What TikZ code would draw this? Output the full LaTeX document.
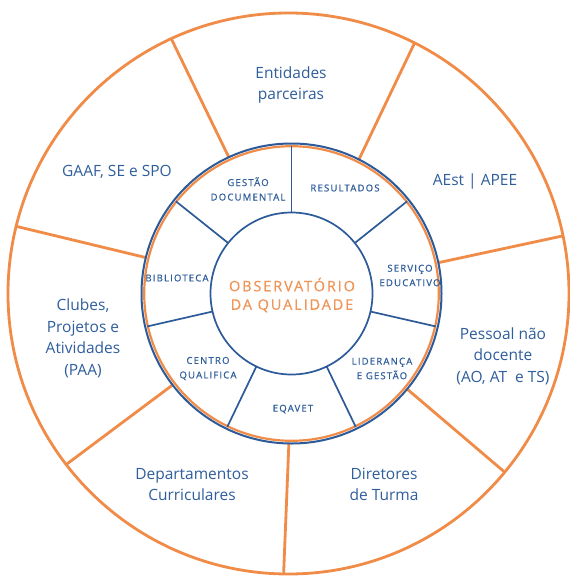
\documentclass[tikz,border=0pt]{standalone}
\usepackage{fontspec}
\setmainfont{Open Sans}
\usetikzlibrary{calc}
\definecolor{ringorange}{HTML}{F08C48}
\definecolor{ringblue}{HTML}{2D5A98}
\definecolor{labelblue}{HTML}{2F5E9C}
\definecolor{titleorange}{HTML}{EE9559}
\newfontfamily\spacedfont[LetterSpace=12,FakeBold=0.6]{Open Sans}
\newfontfamily\titlefont[LetterSpace=13,FakeBold=0.5]{Open Sans}
\tikzset{
  outerlabel/.style={align=center, text=labelblue, inner sep=0pt,
    font=\fontsize{15.5}{21.5}\selectfont},
  innerlabel/.style={align=center, text=labelblue, inner sep=0pt,
    font=\spacedfont\fontsize{9.6}{14.5}\selectfont},
  titlelabel/.style={align=center, text=titleorange, inner sep=0pt,
    font=\titlefont\fontsize{14.5}{18.5}\selectfont},
  orangeline/.style={draw=ringorange, line width=2.8pt},
  blueline/.style={draw=ringblue, line width=2pt},
}
\begin{document}
\begin{tikzpicture}[x=1pt,y=-1pt]
\useasboundingbox (0,0) rectangle (570,576);
\fill[white] (0,0) rectangle (570,576);
% centres of the outer wheel and of the inner ring
\coordinate (O) at (288.5,293.5);
\coordinate (I) at (291.5,293.5);
% outer wheel and its seven orange spokes
\draw[orangeline] (O) circle[radius=280.5];
\foreach \a in {-91,-39.57,11.86,63.29,114.71,166.14,217.57}{
  \draw[orangeline] ($(I)+(-\a:150)$) -- ($(O)+(-\a:280.5)$);
}
% inner ring: orange and blue borders
\draw[draw=ringorange, line width=2.2pt] (I) circle[radius=147.3];
\draw[blueline] (I) circle[radius=150];
\draw[draw=ringblue, line width=1.7pt] (I) circle[radius=81];
\foreach \a in {90,38.57,-12.86,-64.29,-115.71,-167.14,-218.57}{
  \draw[draw=ringblue, line width=1.7pt] ($(I)+(-\a:81)$) -- ($(I)+(-\a:148)$);
}
% centre title
\node[titlelabel] (obs) at (292,295) {OBSERVATÓRIO\\DA QUALIDADE};
% ring labels
\node[innerlabel] (gestdoc) at (248,189) {GESTÃO\\DOCUMENTAL};
\node[innerlabel] (result) at (345,188) {RESULTADOS};
\node[innerlabel] (servico) at (410,275.5) {SERVIÇO\\EDUCATIVO};
\node[innerlabel] (lider) at (382,368.5) {LIDERANÇA\\E GESTÃO};
\node[innerlabel] (eqavet) at (293,409) {EQAVET};
\node[innerlabel] (centro) at (208,368.5) {CENTRO\\QUALIFICA};
\node[innerlabel] (biblio) at (177,278) {BIBLIOTECA};
% wheel labels
\node[outerlabel] (entid) at (291,85) {Entidades\\parceiras};
\node[outerlabel] (aest) at (475,181) {AEst | APEE};
\node[outerlabel] (pessoal) at (503,356) {Pessoal não\\docente\\(AO, AT\ \ e TS)};
\node[outerlabel] (diret) at (384,484.5) {Diretores\\de Turma};
\node[outerlabel] (depart) at (192,484.5) {Departamentos\\Curriculares};
\node[outerlabel] (clubes) at (83,338.5) {Clubes,\\Projetos e\\Atividades\\(PAA)};
\node[outerlabel] (gaaf) at (117,172) {GAAF, SE e SPO};
\end{tikzpicture}
\end{document}
